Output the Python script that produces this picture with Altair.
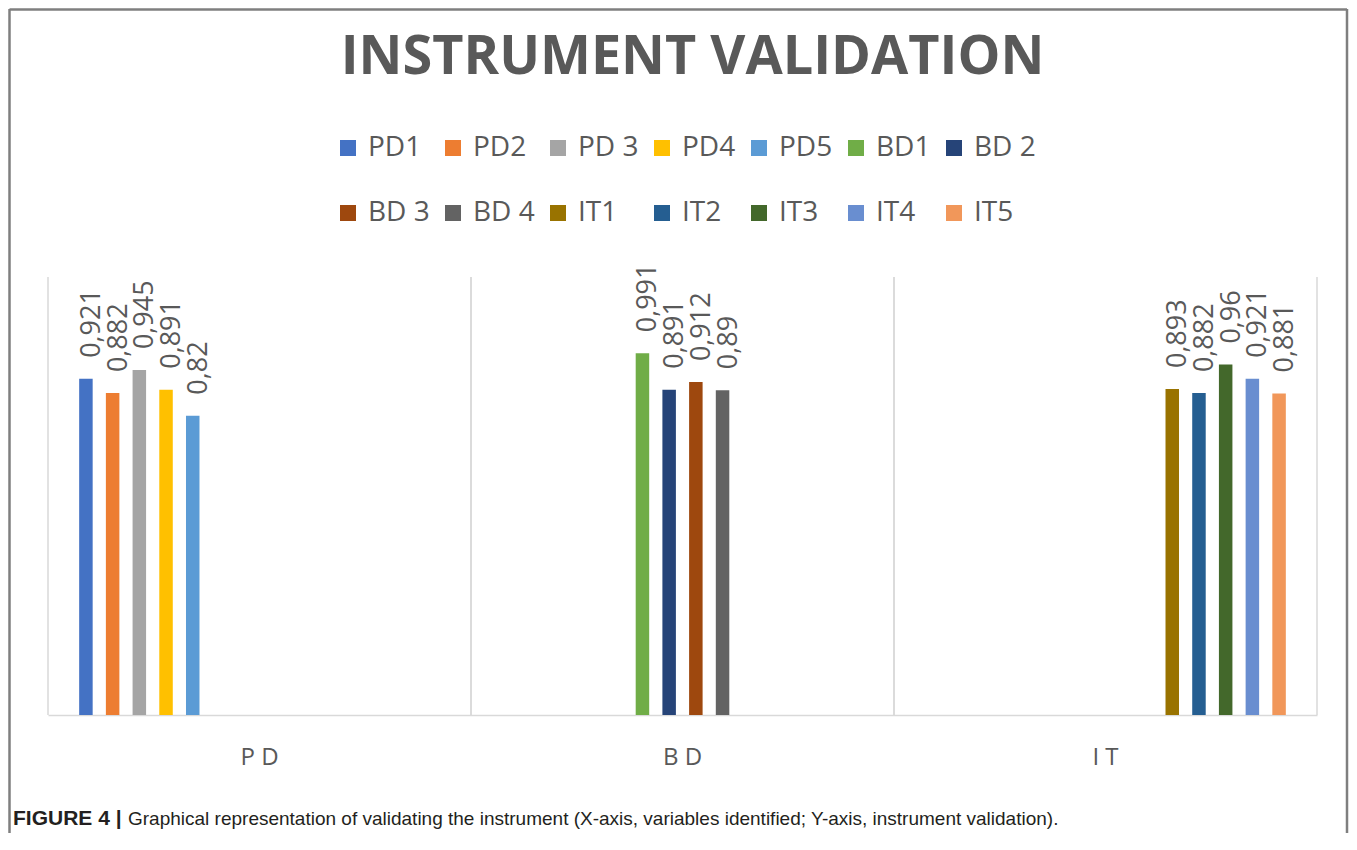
import altair as alt
import pandas as pd

categories = ["PD", "BD", "IT"]
series = ["PD1", "PD2", "PD 3", "PD4", "PD5", "BD1", "BD 2", "BD 3", "BD 4",
          "IT1", "IT2", "IT3", "IT4", "IT5"]
groups = ["PD"] * 5 + ["BD"] * 4 + ["IT"] * 5
values = [0.921, 0.882, 0.945, 0.891, 0.82,
          0.991, 0.891, 0.912, 0.89,
          0.893, 0.882, 0.96, 0.921, 0.881]
colors = ["#4472C4", "#ED7D31", "#A5A5A5", "#FFC000", "#5B9BD5", "#70AD47", "#264478",
          "#9E480E", "#636363", "#997300", "#255E91", "#43682B", "#698ED0", "#F1975A"]
caption_bold = "FIGURE 4 |"
caption_text = ("Graphical representation of validating the instrument "
                "(X-axis, variables identified; Y-axis, instrument validation).")

df = pd.DataFrame({"group": groups, "series": series, "value": values})
cat_df = pd.DataFrame({"group": categories})

W, H = 1269, 438
GRID = "#d9d9d9"
TXT = "#595959"

x_scale = alt.Scale(domain=categories, paddingInner=0, paddingOuter=0)

base = alt.Chart(df).encode(
    x=alt.X("group:N", sort=categories, scale=x_scale,
            axis=alt.Axis(title=None, labelAngle=0, labelAlign="center", ticks=False,
                          domainColor=GRID, domainWidth=1.5, labelFontSize=24,
                          labelColor=TXT, labelFont="Open Sans", labelPadding=42,
                          labelExpr="slice(datum.label,0,1) + ' ' + slice(datum.label,1)")),
    xOffset=alt.XOffset("series:N", sort=series,
                        scale=alt.Scale(domain=series, paddingInner=0, paddingOuter=0.92)),
    y=alt.Y("value:Q", scale=alt.Scale(domain=[0, 1.2]), axis=None),
)

bars = base.mark_bar(width=13.5).encode(
    color=alt.Color("series:N", sort=series,
                    scale=alt.Scale(domain=series, range=colors),
                    legend=alt.Legend(title=None, orient="none", legendX=286, legendY=-143,
                                      direction="horizontal", columns=7,
                                      symbolType="square", symbolSize=256,
                                      symbolStrokeWidth=0, labelFontSize=28,
                                      labelColor=TXT, labelFont="Open Sans",
                                      labelOffset=6, columnPadding=9, rowPadding=37))
)

labels = base.transform_calculate(
    label="replace(toString(datum.value), '.', ',')"
).mark_text(angle=270, align="left", baseline="middle", dx=21, dy=6,
            fontSize=27, font="Open Sans", color=TXT).encode(text="label:N")

grid_left = alt.Chart(cat_df).mark_rule(color=GRID, strokeWidth=1.5).encode(
    x=alt.X("group:N", sort=categories, scale=x_scale, bandPosition=0),
    y=alt.value(0), y2=alt.value(H))
grid_right = alt.Chart(cat_df).mark_rule(color=GRID, strokeWidth=1.5).encode(
    x=alt.X("group:N", sort=categories, scale=x_scale, bandPosition=1),
    y=alt.value(0), y2=alt.value(H))

cap_df = pd.DataFrame({"b": [caption_bold], "t": [caption_text]})
cap_bold = alt.Chart(cap_df).mark_text(align="left", baseline="middle", fontSize=21,
                                       font="Liberation Sans", fontWeight="bold",
                                       color="#231f20").encode(
    x=alt.value(-35), y=alt.value(542), text="b:N")
cap_reg = alt.Chart(cap_df).mark_text(align="left", baseline="middle", fontSize=19,
                                      font="Liberation Sans", color="#231f20").encode(
    x=alt.value(80), y=alt.value(542), text="t:N")

BORDER = "#7f7f7f"
frame_top = alt.Chart(cap_df).mark_rule(color=BORDER, strokeWidth=2.5).encode(
    x=alt.value(-38.5), x2=alt.value(1299), y=alt.value(-267.5))
frame_left = alt.Chart(cap_df).mark_rule(color=BORDER, strokeWidth=2.5).encode(
    x=alt.value(-38.5), y=alt.value(-268), y2=alt.value(560))
frame_right = alt.Chart(cap_df).mark_rule(color=BORDER, strokeWidth=2.5).encode(
    x=alt.value(1299), y=alt.value(-268), y2=alt.value(560))

chart = alt.layer(
    grid_left, grid_right, bars, labels, cap_bold, cap_reg,
    frame_top, frame_left, frame_right
).properties(
    width=W, height=H,
    title=alt.TitleParams("INSTRUMENT VALIDATION", fontSize=54, font="Open Sans",
                          fontWeight="bold", color=TXT, anchor="middle", offset=0,
                          baseline="alphabetic", dy=120, dx=10),
    autosize=alt.AutoSizeParams(type="none"),
    padding={"left": 40, "top": 269, "right": 32, "bottom": 118},
).configure(background="white", view=alt.ViewConfig(stroke=None))

chart.save("out.html", embed_options={"renderer": "svg", "actions": False})
